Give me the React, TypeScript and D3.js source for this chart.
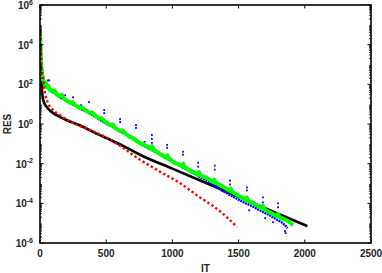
import * as d3 from 'd3'

// [IT, log10(RES)]
const blackRes: [number, number][] = [
  [0, 4.8], [3, 3.6], [6, 2.8], [10, 2.2], [15, 1.7], [25, 1.2], [50, 0.86], [100, 0.55],
  [150, 0.36], [200, 0.2], [327, -0.15], [400, -0.4], [505, -0.72], [642, -1.15], [755, -1.55],
  [1000, -2.25], [1380, -3.33], [1700, -4.25], [2020, -5.15],
]

const redRes: [number, number][] = [
  [0, 4.8], [5, 3.9], [10, 3.2], [15, 2.7], [25, 2.2], [38, 1.56], [60, 1.06], [100, 0.7],
  [150, 0.45], [250, 0.05], [378, -0.3], [505, -0.7], [627, -1.2], [755, -1.8], [906, -2.4],
  [1057, -2.98], [1208, -3.7], [1300, -4.1], [1360, -4.4], [1420, -4.75], [1488, -5.2],
]

const greenRes: [number, number][] = [
  [0, 4.6], [4, 3.8], [8, 3.1], [12, 2.7], [18, 2.4], [25, 2.2], [32, 2.05], [38, 1.97], [44, 2.08],
  [50, 1.9], [56, 1.85], [62, 1.93], [75, 1.72], [88, 1.68], [100, 1.62], [112, 1.68], [125, 1.5],
  [138, 1.45], [150, 1.4], [165, 1.47], [180, 1.28], [195, 1.22], [210, 1.15], [227, 1.08], [245, 1.1],
  [262, 0.98], [280, 0.9], [300, 0.82], [318, 0.84], [336, 0.72], [355, 0.65], [378, 0.55], [395, 0.58],
  [412, 0.45], [430, 0.35], [450, 0.27], [468, 0.29], [486, 0.15], [505, 0.05], [529, -0.05], [548, -0.03],
  [566, -0.18], [585, -0.28], [605, -0.35], [625, -0.33], [645, -0.48], [665, -0.58], [680, -0.66],
  [700, -0.68], [720, -0.8], [740, -0.9], [755, -0.96], [775, -1.0], [795, -1.08], [816, -1.16],
  [830, -1.22], [838, -1.26], [845, -1.12], [860, -1.3], [880, -1.38], [900, -1.48], [920, -1.56],
  [940, -1.64], [955, -1.7], [962, -1.58], [970, -1.72], [990, -1.82], [1005, -1.92], [1030, -1.98],
  [1055, -2.06], [1075, -2.12], [1082, -2.0], [1090, -2.16], [1110, -2.25], [1130, -2.32], [1150, -2.4],
  [1170, -2.46], [1192, -2.55], [1200, -2.43], [1208, -2.58], [1230, -2.64], [1260, -2.72], [1285, -2.82],
  [1310, -2.92], [1318, -2.8], [1325, -2.95], [1345, -3.02], [1360, -3.08], [1385, -3.18], [1410, -3.28],
  [1435, -3.38], [1442, -3.26], [1450, -3.42], [1475, -3.52], [1500, -3.62], [1530, -3.72], [1555, -3.82],
  [1562, -3.7], [1570, -3.86], [1590, -3.92], [1610, -3.98], [1635, -4.08], [1660, -4.18], [1678, -4.25],
  [1685, -4.13], [1692, -4.28], [1715, -4.38], [1740, -4.46], [1765, -4.56], [1790, -4.64], [1798, -4.53],
  [1806, -4.68], [1830, -4.76], [1850, -4.82], [1870, -4.88], [1890, -4.98], [1913, -5.1],
]

const blueRes: [number, number][] = [
  [10, 3.0], [30, 2.1], [60, 1.85], [90, 1.65], [120, 1.55], [150, 1.35], [180, 1.25], [210, 1.12],
  [240, 1.02], [270, 0.92], [300, 0.78], [330, 0.68], [360, 0.58], [390, 0.48], [420, 0.36], [450, 0.22],
  [480, 0.1], [510, -0.02], [540, -0.1], [570, -0.24], [600, -0.36], [630, -0.45], [660, -0.58],
  [690, -0.7], [720, -0.84], [750, -0.98], [780, -1.08], [810, -1.2], [840, -1.3], [870, -1.4],
  [900, -1.52], [930, -1.62], [960, -1.74], [990, -1.86], [1020, -1.98], [1050, -2.08], [1080, -2.2],
  [1110, -2.3], [1140, -2.42], [1170, -2.52], [1200, -2.65], [1230, -2.76], [1260, -2.86], [1290, -2.98],
  [1320, -3.1], [1350, -3.24], [1380, -3.38], [1410, -3.48], [1440, -3.6], [1470, -3.7], [1500, -3.82],
  [1530, -3.92], [1560, -4.02], [1590, -4.1], [1620, -4.2], [1650, -4.32], [1680, -4.42], [1710, -4.52],
  [1740, -4.62], [1770, -4.74], [1800, -4.86], [1830, -4.98], [1850, -5.1], [1870, -5.25],
]

const blueOutliers: [number, number][] = [
  [60, 2.2], [70, 2.2], [190, 1.45], [250, 1.35], [310, 0.95], [370, 1.1], [485, 0.7], [485, 0.55],
  [605, 0.25], [605, 0.1], [725, -0.05], [725, -0.2], [790, -0.9], [845, -0.55], [845, -0.75],
  [845, -0.95], [960, -1.05], [960, -1.2], [1080, -1.4], [1080, -1.55], [1195, -1.95], [1195, -2.15],
  [1320, -2.1], [1320, -2.3], [1435, -2.85], [1435, -3.05], [1563, -3.2], [1563, -3.35], [1684, -3.7],
  [1684, -3.95], [1798, -4.0], [1798, -4.2], [1580, -4.35], [1700, -4.75], [1760, -4.95], [1850, -5.4],
  [1855, -5.5],
]

const xTicks = [0, 500, 1000, 1500, 2000, 2500]
const yExps = [-6, -4, -2, 0, 2, 4, 6]

const W = 382
const H = 273
const L = 40, R = 371, T = 5, B = 243

export default function App() {
  const x = d3.scaleLinear().domain([0, 2500]).range([L, R])
  const y = d3.scaleLog().domain([1e-6, 1e6]).range([B, T])

  const line = d3.line<[number, number]>()
    .x(d => x(d[0]))
    .y(d => y(Math.pow(10, d[1])))
  const smooth = d3.line<[number, number]>()
    .x(d => x(d[0]))
    .y(d => y(Math.pow(10, d[1])))
    .curve(d3.curveMonotoneX)

  // minor log ticks 2..9 per decade
  const minor: number[] = []
  for (let e = -6; e < 6; e++) {
    for (let k = 2; k <= 9; k++) minor.push(k * Math.pow(10, e))
  }

  const font = "'Liberation Sans', Arial, Helvetica, sans-serif"

  return (
    <svg width={W} height={H} style={{ position: 'absolute', left: 0, top: 0, background: '#fff' }}
      fontFamily={font}>
      <defs>
        <clipPath id="plot-clip">
          <rect x={L} y={T} width={R - L} height={B - T} />
        </clipPath>
      </defs>

      <g clipPath="url(#plot-clip)">
        <path d={smooth(blackRes) || ''} fill="none" stroke="#000" strokeWidth={2.6} />
        <path d={line(blueRes) || ''} fill="none" stroke="#0000ff" strokeWidth={2.4}
          strokeDasharray="2,0.7" />
        {blueOutliers.map((d, i) => (
          <rect key={i} x={x(d[0]) - 0.9} y={y(Math.pow(10, d[1])) - 0.9} width={1.8} height={1.8}
            fill="#0000ff" />
        ))}
        <path d={line(greenRes) || ''} fill="none" stroke="#00ff00" strokeWidth={4}
          strokeLinejoin="round" />
        <path d={smooth(redRes) || ''} fill="none" stroke="#ff0000" strokeWidth={2.4}
          strokeDasharray="2.4,2.4" />
      </g>

      {/* y minor ticks, both sides */}
      {minor.map((v, i) => (
        <g key={i} stroke="#000" strokeWidth={0.8}>
          <line x1={L} x2={L + 2} y1={y(v)} y2={y(v)} />
          <line x1={R} x2={R - 2} y1={y(v)} y2={y(v)} />
        </g>
      ))}
      {/* y major ticks */}
      {yExps.map(e => (
        <g key={e} stroke="#000" strokeWidth={1}>
          <line x1={L} x2={L + 3.5} y1={y(Math.pow(10, e))} y2={y(Math.pow(10, e))} />
          <line x1={R} x2={R - 3.5} y1={y(Math.pow(10, e))} y2={y(Math.pow(10, e))} />
        </g>
      ))}
      {/* x ticks top & bottom */}
      {xTicks.map(t => (
        <g key={t} stroke="#000" strokeWidth={1}>
          <line x1={x(t)} x2={x(t)} y1={B} y2={B - 3.5} />
          <line x1={x(t)} x2={x(t)} y1={T} y2={T + 3.5} />
        </g>
      ))}

      <rect x={L} y={T} width={R - L} height={B - T} fill="none" stroke="#000" strokeWidth={1.6} />

      {/* y tick labels */}
      {yExps.map(e => (
        <text key={e} x={33} y={y(Math.pow(10, e)) + 4} textAnchor="end" fontSize={10}
          fontWeight="bold" fill="#262626">
          10<tspan fontSize={7} dy={-4.5}>{e}</tspan>
        </text>
      ))}
      {/* x tick labels */}
      {xTicks.map(t => (
        <text key={t} x={x(t)} y={257} textAnchor="middle" fontSize={10} fontWeight="bold"
          fill="#262626">{t}</text>
      ))}

      <text x={(L + R) / 2} y={272} textAnchor="middle" fontSize={10} fontWeight="bold"
        fill="#262626">IT</text>
      <text transform={`translate(11,${(T + B) / 2}) rotate(-90)`} textAnchor="middle" fontSize={10}
        fontWeight="bold" fill="#262626">RES</text>
    </svg>
  )
}
